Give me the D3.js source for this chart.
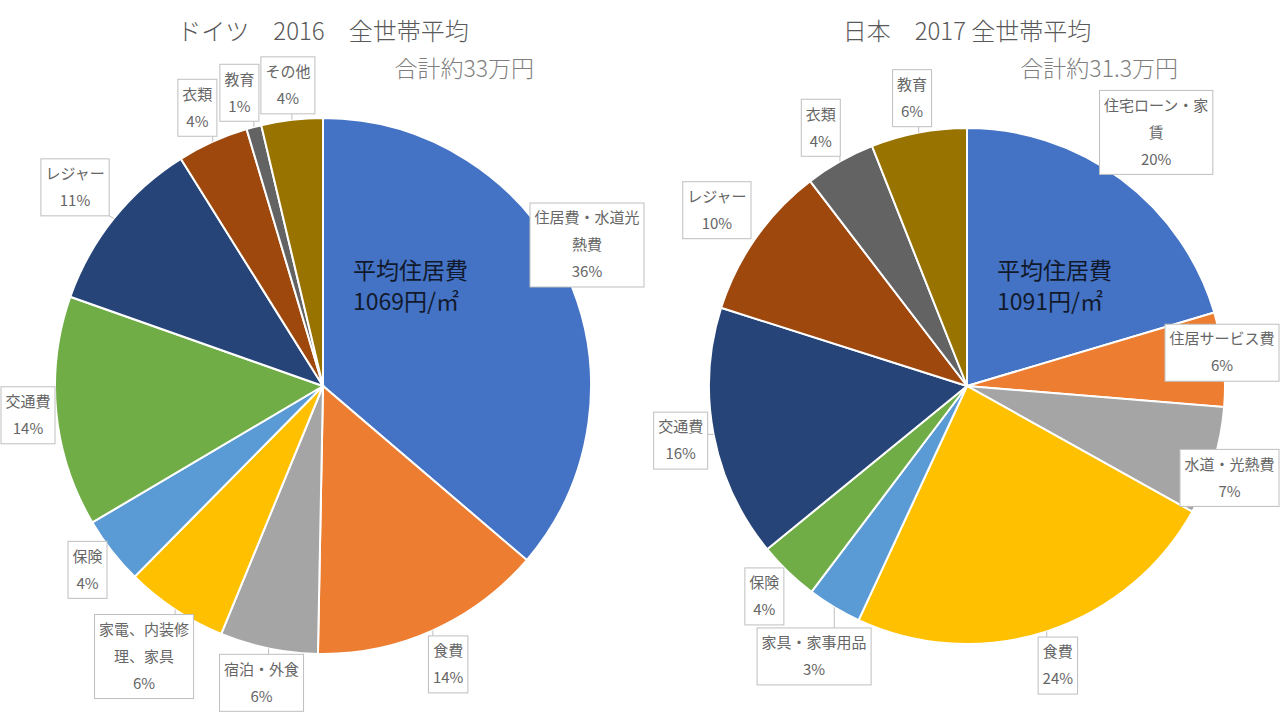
<!DOCTYPE html>
<html lang="ja">
<head>
<meta charset="utf-8">
<title>ドイツ・日本 全世帯平均 消費支出</title>
<script src="https://cdn.jsdelivr.net/npm/d3@7"></script>
<style>
  body { margin: 0; background: #fff; }
  svg { display: block; font-family: "Noto Sans CJK JP", "Noto Sans", sans-serif; }
</style>
</head>
<body>
<svg id="chart" width="1280" height="720"></svg>
<script>
// ドイツ 2016 全世帯平均（構成比 %）
const deCategories = ["住居費・水道光熱費", "食費", "宿泊・外食", "家電、内装修理、家具", "保険", "交通費", "レジャー", "衣類", "教育", "その他"];
const deValues = [36.25, 14.05, 5.9, 6.2, 4.1, 13.9, 10.7, 4.3, 0.9, 3.7];

// 日本 2017 全世帯平均（構成比 %）
const jpCategories = ["住宅ローン・家賃", "住居サービス費", "水道・光熱費", "食費", "家具・家事用品", "保険", "交通費", "レジャー", "衣類", "教育"];
const jpValues = [20.4, 5.9, 6.8, 23.8, 3.4, 3.8, 15.8, 9.7, 4.4, 6.0];

// Excel標準の配色
const sliceColors = ["#4472C4", "#ED7D31", "#A5A5A5", "#FFC000", "#5B9BD5", "#70AD47", "#264478", "#9E480E", "#636363", "#997300"];

const W = 1280, H = 720;
const svg = d3.select("#chart");

// 左右のパネル（x0〜x1）にそれぞれ円グラフを置く
const charts = [
    {title: "ドイツ　2016　全世帯平均", total: "合計約33万円", note: ["平均住居費", "1069円/㎡"],
     categories: deCategories, values: deValues, cx: 323, cy: 386, r: 268, x0: 0, x1: 645},
    {title: "日本　2017 全世帯平均", total: "合計約31.3万円", note: ["平均住居費", "1091円/㎡"],
     categories: jpCategories, values: jpValues, cx: 967, cy: 386, r: 258, x0: 645, x1: W}
];

// 7文字で折り返し（「、」は行頭に来ないようにする）
function wrapLabel(s, n) {
    const lines = [];
    let i = 0;
    while (i < s.length) {
        let end = Math.min(i + n, s.length);
        while (end < s.length && end > i + 1 && "、。".includes(s[end])) end--;
        lines.push(s.slice(i, end));
        i = end;
    }
    return lines;
}

function overlaps(a, b) {
    return a.x < b.x + b.w + 2 && b.x < a.x + a.w + 2 && a.y < b.y + b.h + 2 && b.y < a.y + a.h + 2;
}

function drawPie(cfg) {
    const g = svg.append("g").attr("transform", "translate(" + cfg.cx + "," + cfg.cy + ")");

    const data = cfg.categories.map((c, i) => ({name: c, value: cfg.values[i]}));
    const total = d3.sum(cfg.values);
    const pie = d3.pie().sort(null).value(d => d.value);
    const arcs = pie(data);
    const color = d3.scaleOrdinal().domain(cfg.categories).range(sliceColors);
    const arc = d3.arc().innerRadius(0).outerRadius(cfg.r);

    // スライス
    g.selectAll("path.slice")
        .data(arcs)
        .join("path")
        .attr("class", "slice")
        .attr("d", arc)
        .attr("fill", d => color(d.data.name))
        .attr("stroke", "#fff")
        .attr("stroke-width", 2);

    // タイトルと合計
    svg.append("text")
        .attr("x", cfg.cx).attr("y", 40)
        .attr("text-anchor", "middle")
        .style("font-size", "24px").style("font-weight", 300)
        .attr("fill", "#595959")
        .text(cfg.title);

    svg.append("text")
        .attr("x", cfg.cx + 211).attr("y", 77)
        .attr("text-anchor", "end")
        .style("font-size", "23px").style("font-weight", 300)
        .attr("fill", "#7f7f7f")
        .text(cfg.total);

    // 平均住居費
    g.selectAll("text.note")
        .data(cfg.note)
        .join("text")
        .attr("class", "note")
        .attr("x", 30)
        .attr("y", (d, i) => -107 + i * 31)
        .style("font-size", "23px")
        .attr("fill", "#111a2c")
        .text(d => d);

    // データラベル（外側に配置）
    const gap = 6;
    const lineH = 27;
    const fmt = d => Math.round(d / total * 100) + "%";

    const labels = arcs.map(d => ({
        mid: (d.startAngle + d.endAngle) / 2,
        value: d.data.value,
        lines: wrapLabel(d.data.name, 7).concat([fmt(d.data.value)])
    }));

    // 文字幅を測る
    const probe = g.append("text").style("font-size", "15px");
    labels.forEach(l => {
        let maxW = 0;
        l.lines.forEach(t => {
            probe.text(t);
            maxW = Math.max(maxW, probe.node().getComputedTextLength());
        });
        l.w = maxW + 9;
        l.h = (l.lines.length - 1) * lineH + 30;
        const sx = Math.sin(l.mid), sy = -Math.cos(l.mid);
        const ext = Math.min(
            Math.abs(sx) > 1e-6 ? (l.w / 2) / Math.abs(sx) : Infinity,
            Math.abs(sy) > 1e-6 ? (l.h / 2) / Math.abs(sy) : Infinity
        );
        const dist = cfg.r + gap + ext;
        l.x = sx * dist - l.w / 2;
        l.y = sy * dist - l.h / 2;
    });
    probe.remove();

    // 重なりを解消（小さいスライスのラベルを動かす）
    const placed = [];
    labels.slice().sort((a, b) => b.value - a.value).forEach(l => {
        for (let k = 0; k < 20; k++) {
            const hit = placed.find(p => overlaps(p, l));
            if (!hit) break;
            const ox = Math.min(l.x + l.w, hit.x + hit.w) - Math.max(l.x, hit.x);
            const oy = Math.min(l.y + l.h, hit.y + hit.h) - Math.max(l.y, hit.y);
            if (ox < oy) l.x += (l.x + l.w / 2 < hit.x + hit.w / 2 ? -1 : 1) * (ox + 3);
            else l.y += (l.y + l.h / 2 < hit.y + hit.h / 2 ? -1 : 1) * (oy + 3);
        }
        placed.push(l);
    });

    labels.forEach(l => {
        // パネル内に収める
        l.x = Math.max(cfg.x0 + 1 - cfg.cx, Math.min(cfg.x1 - 1 - cfg.cx - l.w, l.x));
        l.y = Math.max(1 - cfg.cy, Math.min(H - 1 - cfg.cy - l.h, l.y));
        // 引き出し線
        l.px = Math.sin(l.mid) * cfg.r;
        l.py = -Math.cos(l.mid) * cfg.r;
        l.qx = Math.max(l.x, Math.min(l.x + l.w, l.px));
        l.qy = Math.max(l.y, Math.min(l.y + l.h, l.py));
    });

    g.selectAll("line.leader")
        .data(labels.filter(l => Math.hypot(l.px - l.qx, l.py - l.qy) > 5))
        .join("line")
        .attr("class", "leader")
        .attr("x1", d => d.qx).attr("y1", d => d.qy)
        .attr("x2", d => d.px).attr("y2", d => d.py)
        .attr("stroke", "#bfbfbf")
        .attr("stroke-width", 1);

    const lab = g.selectAll("g.label")
        .data(labels)
        .join("g")
        .attr("class", "label")
        .attr("transform", d => "translate(" + d.x + "," + d.y + ")");

    lab.append("rect")
        .attr("width", d => d.w)
        .attr("height", d => d.h)
        .attr("fill", "#fff")
        .attr("stroke", "#bfbfbf")
        .attr("stroke-width", 1);

    lab.each(function(d) {
        d3.select(this).selectAll("text")
            .data(d.lines)
            .join("text")
            .attr("x", d.w / 2)
            .attr("y", (t, i) => 15 + i * lineH)
            .attr("dy", "0.35em")
            .attr("text-anchor", "middle")
            .style("font-size", "15px")
            .attr("fill", "#666")
            .text(t => t);
    });
}

charts.forEach(drawPie);
</script>
</body>
</html>
